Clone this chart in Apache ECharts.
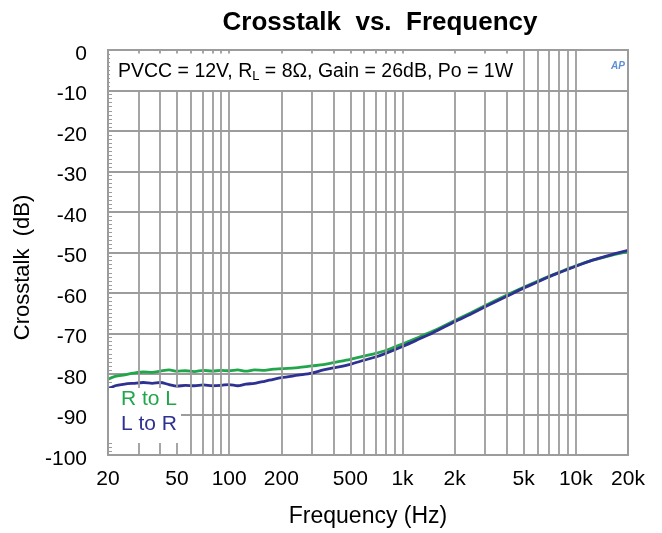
<!DOCTYPE html>
<html>
<head>
<meta charset="utf-8">
<script src="https://cdn.jsdelivr.net/npm/echarts@6/dist/echarts.min.js"></script>
<style>html,body{margin:0;padding:0;background:#fff}#c{width:662px;height:533px}</style>
</head>
<body>
<div id="c"></div>
<script>
const freqs = [20,22,25,28,32,36,40,45,50,56,63,71,80,90,100,112,125,140,160,180,200,250,300,350,400,500,600,700,800,1000,1200,1500,2000,2500,3000,4000,5000,6000,7000,8000,10000,12500,15000,20000];
const rToL = [-81.3,-80.6,-80.2,-79.8,-79.5,-79.6,-79.3,-79.0,-79.3,-79.2,-79.4,-79.1,-79.3,-79.1,-79.2,-79.0,-79.3,-79.0,-79.1,-78.8,-78.7,-78.4,-78.0,-77.7,-77.2,-76.4,-75.6,-74.9,-74.2,-72.6,-71.2,-69.4,-66.8,-64.8,-63.1,-60.5,-58.6,-57.1,-55.9,-54.9,-53.3,-51.9,-51.0,-49.8];
const lToR = [-83.8,-82.9,-82.5,-82.3,-82.1,-82.3,-82.1,-82.6,-83.0,-82.8,-82.9,-82.7,-82.9,-82.8,-82.6,-82.9,-82.5,-82.3,-81.8,-81.3,-80.9,-80.3,-79.8,-79.0,-78.5,-77.6,-76.6,-75.8,-74.9,-73.2,-71.7,-69.8,-67.1,-65.1,-63.4,-60.8,-58.8,-57.3,-56.0,-55.0,-53.4,-51.9,-50.9,-49.5];
const xGridValues = [20,30,40,50,60,70,80,90,100,200,300,400,500,600,700,800,900,1000,2000,3000,4000,5000,6000,7000,8000,9000,10000,20000];
const xTickValues = [20,50,100,200,500,1000,2000,5000,10000,20000];
const xTickLabels = ['20','50','100','200','500','1k','2k','5k','10k','20k'];

const GREEN = '#21a64b', BLUE = '#2e3192', GRID = '#9c9c9c';
const FONT = 'Liberation Sans, Arial, sans-serif';

const chart = echarts.init(document.getElementById('c'));
const pairs = arr => freqs.map((f, i) => [f, arr[i]]);

chart.setOption({
  animation: false,
  textStyle: { fontFamily: FONT },
  title: [
    { text: 'Crosstalk  vs.  Frequency', left: 375, top: 5, textAlign: 'center',
      textStyle: { fontFamily: FONT, fontSize: 26, fontWeight: 'bold', color: '#000' } },
    { text: 'PVCC = 12V, R{sub|L} = 8Ω, Gain = 26dB, Po = 1W', left: 110, top: 52,
      backgroundColor: '#fff', padding: [8, 10, 7, 8], z: 10,
      textStyle: { fontFamily: FONT, fontSize: 19.5, fontWeight: 'normal', color: '#000',
        rich: { sub: { fontFamily: FONT, fontSize: 13, color: '#000', padding: [10, 0, 0, 0] } } } },
    { text: 'AP', left: 606, top: 56, textStyle: { fontFamily: FONT, fontSize: 10, fontStyle: 'italic', fontWeight: 'bold', color: '#5b8fd6' } }
  ],
  legend: {
    orient: 'vertical', left: 109, top: 388, icon: 'none', itemWidth: 0, itemHeight: 18, itemGap: 4,
    backgroundColor: '#fff', padding: [1, 4, 8, 7], z: 10,
    data: [
      { name: 'R to L', textStyle: { color: GREEN } },
      { name: 'L to R', textStyle: { color: BLUE } }
    ],
    textStyle: { fontFamily: FONT, fontSize: 21 }
  },
  grid: { left: 108, right: 34, top: 50, bottom: 78, show: true, borderColor: GRID, borderWidth: 2, backgroundColor: '#fff' },
  xAxis: {
    type: 'log', logBase: 10, min: 20, max: 20000,
    name: 'Frequency (Hz)', nameLocation: 'middle', nameGap: 50,
    nameTextStyle: { fontFamily: FONT, fontSize: 23, color: '#000' },
    axisLine: { show: false }, axisTick: { show: false }, axisLabel: { show: false }, splitLine: { show: false }
  },
  yAxis: {
    type: 'value', min: -100, max: 0, interval: 10,
    name: 'Crosstalk  (dB)', nameLocation: 'middle', nameGap: 66, nameRotate: 90,
    nameTextStyle: { fontFamily: FONT, fontSize: 22, color: '#000', padding: [0, 30, 0, 0] },
    axisLine: { show: false },
    axisTick: { show: false, inside: true },
    minorTick: { show: true, splitNumber: 10, length: 4, lineStyle: { color: GRID } },
    axisLabel: { fontFamily: FONT, fontSize: 21, color: '#000', margin: 21,
      formatter: v => '{a|' + v + '}',
      rich: { a: { fontFamily: FONT, fontSize: 21, color: '#000', padding: [8, 0, 0, 0] } } },
    splitLine: { show: true, lineStyle: { color: GRID, width: 2 } }
  },
  series: [
    { type: 'line', name: 'gridlines', data: [], z: 1, silent: true,
      markLine: {
        silent: true, symbol: 'none', animation: false,
        lineStyle: { color: GRID, width: 1.8, type: 'solid' },
        label: { show: true, position: 'start', distance: 14, fontFamily: FONT, fontSize: 21, color: '#000',
          formatter: p => { const i = xTickValues.indexOf(p.value); return i >= 0 ? xTickLabels[i] : ''; } },
        data: xGridValues.map(v => ({ xAxis: v }))
      } },
    { type: 'line', name: 'R to L', data: pairs(rToL), showSymbol: false, smooth: 0.3, z: 3,
      lineStyle: { color: GREEN, width: 2.8 }, itemStyle: { color: GREEN } },
    { type: 'line', name: 'L to R', data: pairs(lToR), showSymbol: false, smooth: 0.3, z: 4,
      lineStyle: { color: BLUE, width: 2.8 }, itemStyle: { color: BLUE } }
  ]
});
</script>
</body>
</html>
